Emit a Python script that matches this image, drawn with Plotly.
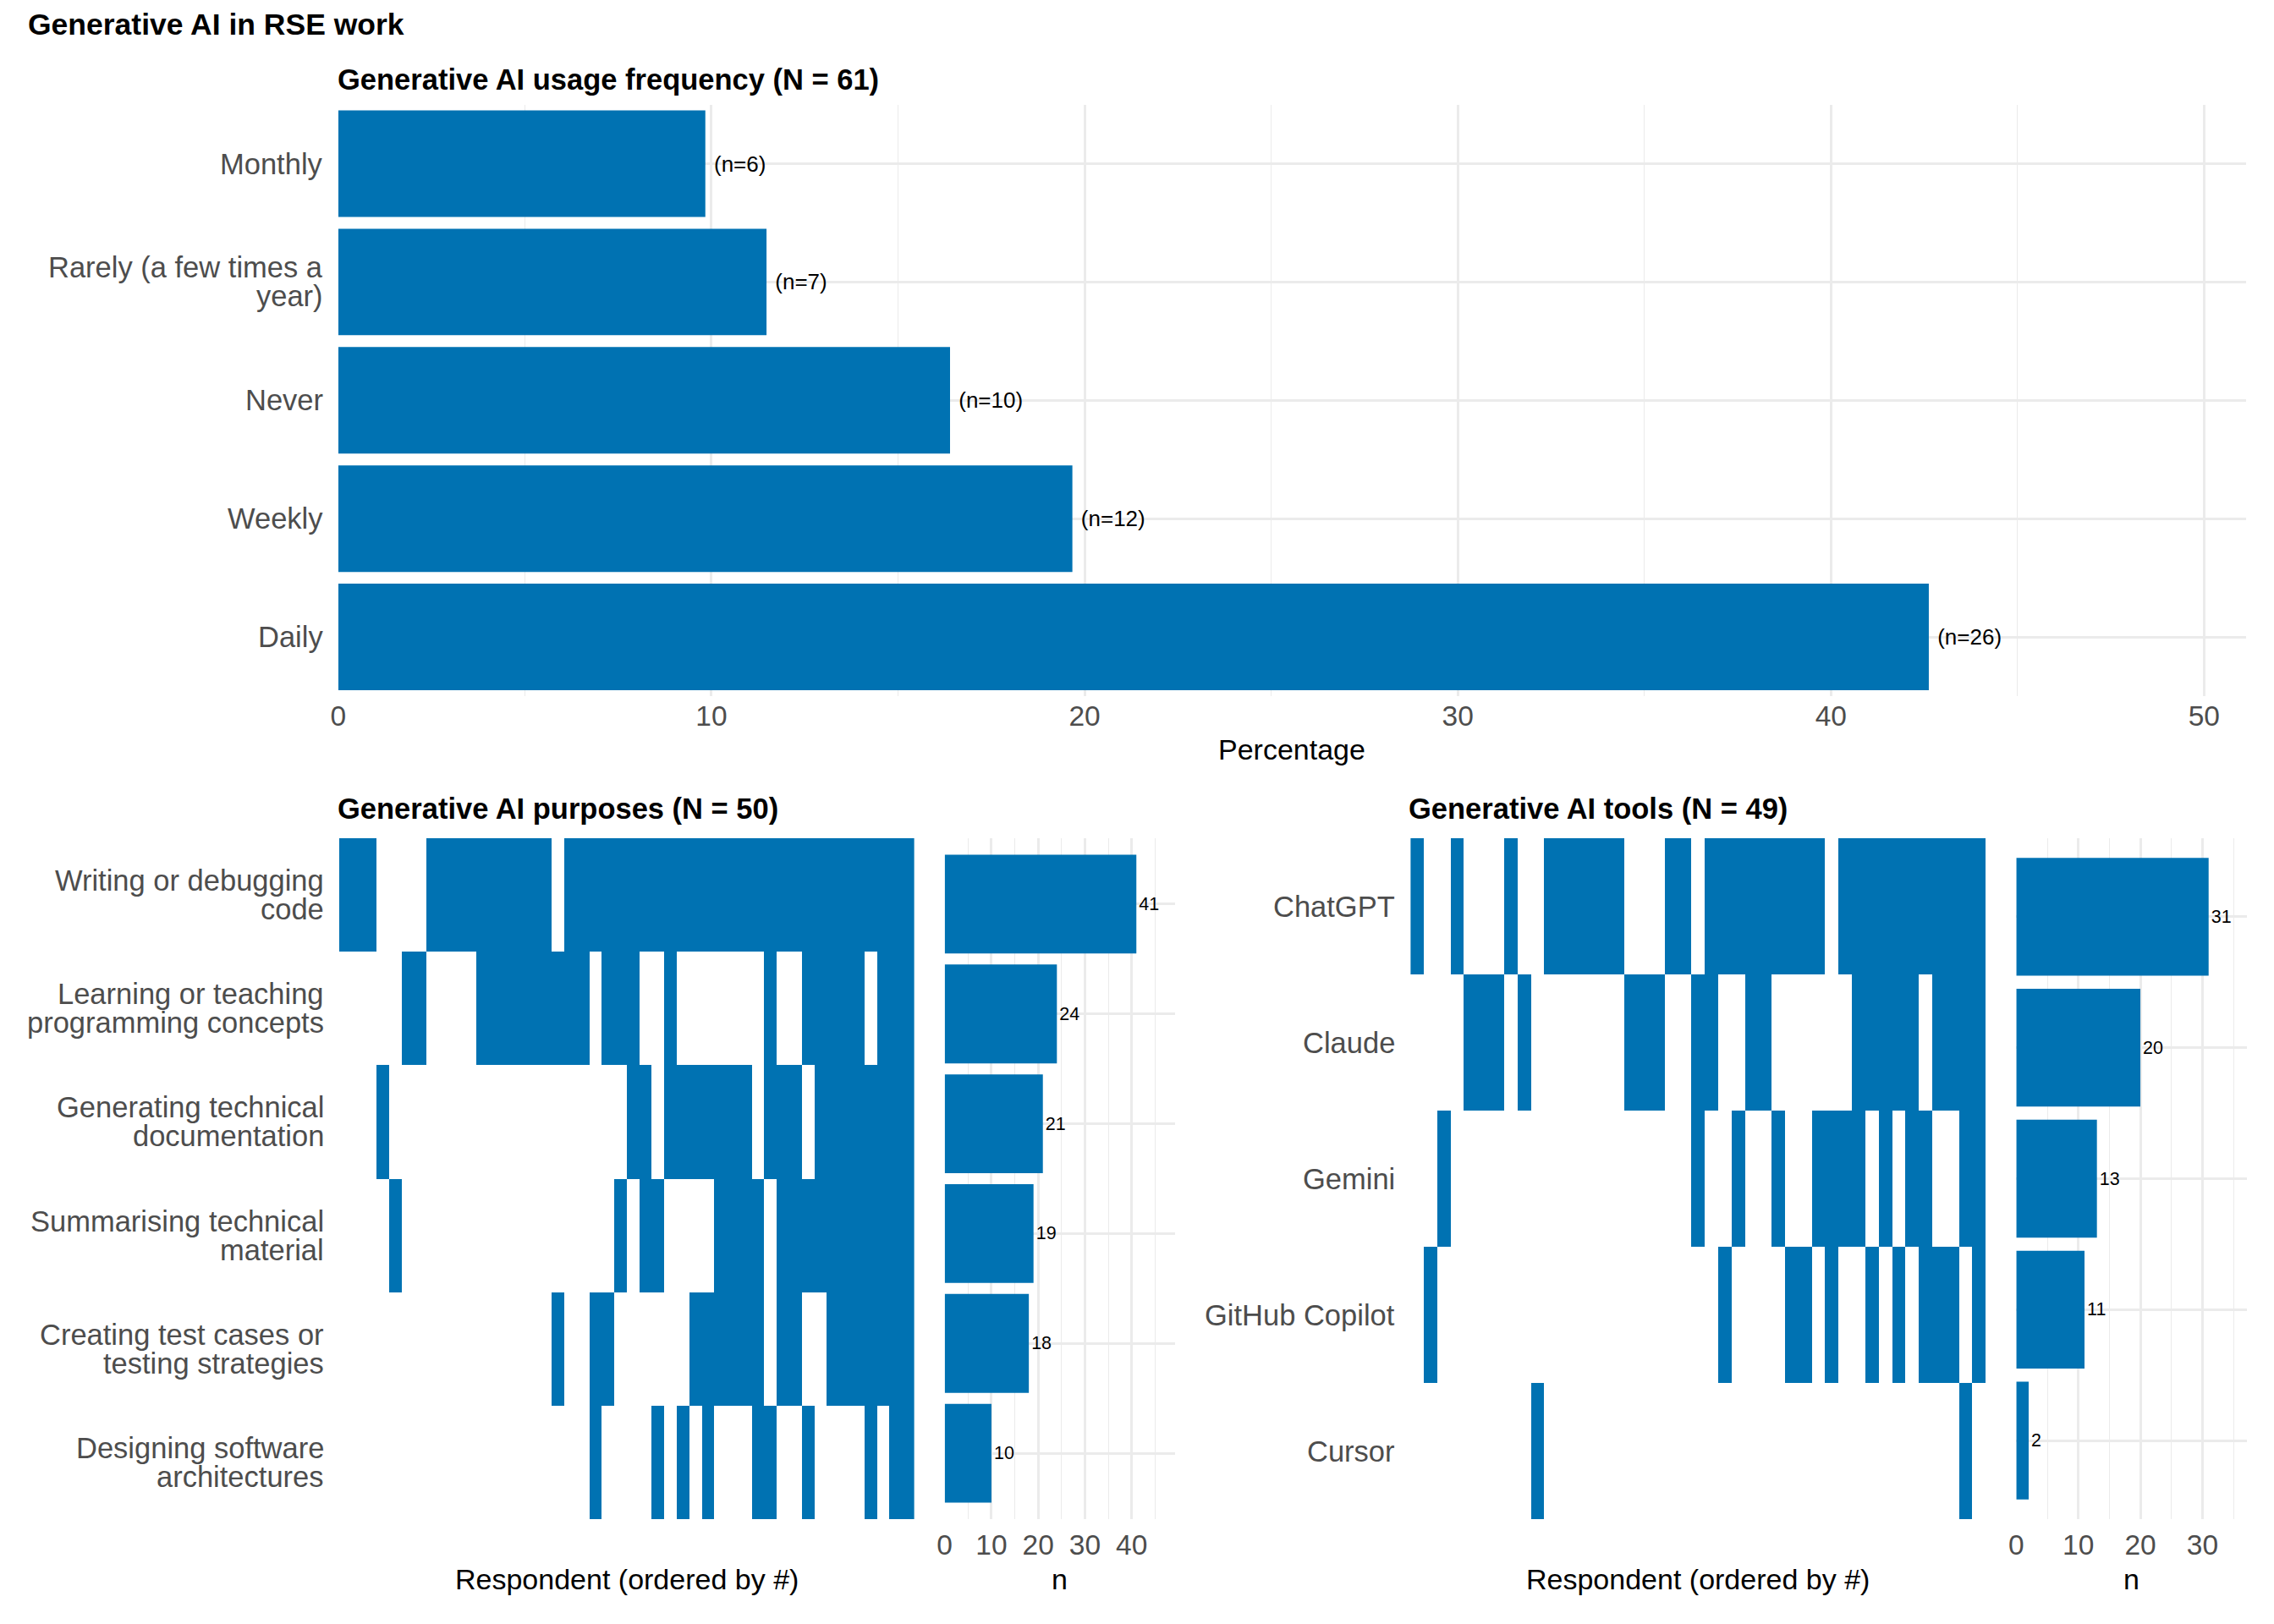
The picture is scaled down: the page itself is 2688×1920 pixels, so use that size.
import plotly.graph_objects as go

W, H = 2688, 1920
BLUE = "#0072B2"
GRID = "#EBEBEB"
TICK = "#4D4D4D"
FONT = "Liberation Sans"

# ---------------- data ----------------
main_title = "Generative AI in RSE work"

freq_labels = ["Monthly", "Rarely (a few times a\nyear)", "Never", "Weekly", "Daily"]
freq_counts = [6, 7, 10, 12, 26]
freq_N = 61

purposes = [
    "Writing or debugging\ncode",
    "Learning or teaching\nprogramming concepts",
    "Generating technical\ndocumentation",
    "Summarising technical\nmaterial",
    "Creating test cases or\ntesting strategies",
    "Designing software\narchitectures",
]
purpose_counts = [41, 24, 21, 19, 18, 10]
purpose_N = 50
# one row per purpose, one column per respondent (1 = selected)
p_writing = [1,1,1,0,0,0,0,1,1,1,1,1,1,1,1,1,1,0,1,1,1,1,1,1,1,1,1,1,1,1,1,1,1,1,1,1,1,1,1,1,1,1,1,1,1,1]
p_learning = [0,0,0,0,0,1,1,0,0,0,0,1,1,1,1,1,1,1,1,1,0,1,1,1,0,0,1,0,0,0,0,0,0,0,1,0,0,1,1,1,1,1,0,1,1,1]
p_generating = [0,0,0,1,0,0,0,0,0,0,0,0,0,0,0,0,0,0,0,0,0,0,0,1,1,0,1,1,1,1,1,1,1,0,1,1,1,0,1,1,1,1,1,1,1,1]
p_summarising = [0,0,0,0,1,0,0,0,0,0,0,0,0,0,0,0,0,0,0,0,0,0,1,0,1,1,0,0,0,0,1,1,1,1,0,1,1,1,1,1,1,1,1,1,1,1]
p_testing = [0,0,0,0,0,0,0,0,0,0,0,0,0,0,0,0,0,1,0,0,1,1,0,0,0,0,0,0,1,1,1,1,1,1,0,1,1,0,0,1,1,1,1,1,1,1]
p_designing = [0,0,0,0,0,0,0,0,0,0,0,0,0,0,0,0,0,0,0,0,1,0,0,0,0,1,0,1,0,1,0,0,0,1,1,0,0,1,0,0,0,0,1,0,1,1]
purpose_rows = [p_writing, p_learning, p_generating, p_summarising, p_testing, p_designing]

tools = ["ChatGPT", "Claude", "Gemini", "GitHub Copilot", "Cursor"]
tool_counts = [31, 20, 13, 11, 2]
tool_N = 49
t_chatgpt = [1,0,0,1,0,0,0,1,0,0,1,1,1,1,1,1,0,0,0,1,1,0,1,1,1,1,1,1,1,1,1,0,1,1,1,1,1,1,1,1,1,1,1]
t_claude = [0,0,0,0,1,1,1,0,1,0,0,0,0,0,0,0,1,1,1,0,0,1,1,0,0,1,1,0,0,0,0,0,0,1,1,1,1,1,0,1,1,1,1]
t_gemini = [0,0,1,0,0,0,0,0,0,0,0,0,0,0,0,0,0,0,0,0,0,1,0,0,1,0,0,1,0,0,1,1,1,1,0,1,0,1,1,0,0,1,1]
t_copilot = [0,1,0,0,0,0,0,0,0,0,0,0,0,0,0,0,0,0,0,0,0,0,0,1,0,0,0,0,1,1,0,1,0,0,1,0,1,0,1,1,1,0,1]
t_cursor = [0,0,0,0,0,0,0,0,0,1,0,0,0,0,0,0,0,0,0,0,0,0,0,0,0,0,0,0,0,0,0,0,0,0,0,0,0,0,0,0,0,1,0]
tool_rows = [t_chatgpt, t_claude, t_gemini, t_copilot, t_cursor]

freq_pct = [c / freq_N * 100 for c in freq_counts]


# ---------------- helpers ----------------
def xd(a, b):
    return [a / W, b / W]


def yd(top, bottom):
    return [1 - bottom / H, 1 - top / H]


def yp(py):
    return 1 - py / H


fig = go.Figure()

# top bar chart
fig.add_trace(go.Bar(
    x=freq_pct, y=freq_labels, orientation="h", width=0.9,
    marker=dict(color=BLUE, line=dict(width=0)),
    text=[f" (n={c})" for c in freq_counts], textposition="outside",
    textfont=dict(size=26, color="black", family=FONT), cliponaxis=False,
    xaxis="x", yaxis="y", hoverinfo="skip",
))

# purposes heatmap
n_p = len(purpose_rows[0])
fig.add_trace(go.Heatmap(
    z=purpose_rows, x=list(range(1, n_p + 1)), y=purposes,
    colorscale=[[0, "#FFFFFF"], [1, BLUE]], zmin=0, zmax=1, showscale=False,
    xaxis="x2", yaxis="y2", hoverinfo="skip",
))
fig.add_trace(go.Bar(
    x=purpose_counts, y=purposes, orientation="h", width=0.9,
    marker=dict(color=BLUE, line=dict(width=0)),
    text=[str(c) for c in purpose_counts], textposition="outside",
    textfont=dict(size=21.5, color="black", family=FONT), cliponaxis=False,
    xaxis="x3", yaxis="y3", hoverinfo="skip",
))

# tools heatmap
n_t = len(tool_rows[0])
fig.add_trace(go.Heatmap(
    z=tool_rows, x=list(range(1, n_t + 1)), y=tools,
    colorscale=[[0, "#FFFFFF"], [1, BLUE]], zmin=0, zmax=1, showscale=False,
    xaxis="x4", yaxis="y4", hoverinfo="skip",
))
fig.add_trace(go.Bar(
    x=tool_counts, y=tools, orientation="h", width=0.9,
    marker=dict(color=BLUE, line=dict(width=0)),
    text=[str(c) for c in tool_counts], textposition="outside",
    textfont=dict(size=21.5, color="black", family=FONT), cliponaxis=False,
    xaxis="x5", yaxis="y5", hoverinfo="skip",
))

tickfont = dict(size=33.5, color=TICK, family=FONT)


def val_axis(domain, rng, anchor, standoff=0):
    return dict(
        domain=domain, range=rng, anchor=anchor, dtick=10, tick0=0,
        showgrid=True, gridcolor=GRID, gridwidth=2.7,
        minor=dict(dtick=5, tick0=0, showgrid=True, gridcolor=GRID, gridwidth=1.4),
        zeroline=False, showline=False, ticks="", tickfont=tickfont,
        ticklabelstandoff=standoff, fixedrange=True,
    )


def cat_axis(domain, cats, rng, anchor, grid=True):
    return dict(
        domain=domain, type="category", categoryorder="array", categoryarray=cats,
        range=rng, anchor=anchor, showgrid=grid, gridcolor=GRID, gridwidth=2.7,
        zeroline=False, showline=False, ticks="", showticklabels=False,
        fixedrange=True,
    )


def hm_xaxis(domain, n, anchor):
    return dict(domain=domain, range=[0.5, n + 0.5], anchor=anchor, showgrid=False,
                zeroline=False, showline=False, ticks="", showticklabels=False,
                fixedrange=True)


top_y = yd(123.6, 823)
bot_y = yd(991, 1796)

fig.update_layout(
    width=W, height=H,
    margin=dict(l=0, r=0, t=0, b=0),
    paper_bgcolor="white", plot_bgcolor="white",
    showlegend=False,
    font=dict(family=FONT, color="black"),
    xaxis=val_axis(xd(392.2, 2655.1), [0, 51.13], "y"),
    yaxis=cat_axis(top_y, freq_labels, [len(freq_labels) - 0.5, -0.5], "x"),
    xaxis2=hm_xaxis(xd(393.2, 1075.3), n_p, "y2"),
    yaxis2=cat_axis(bot_y, purposes, [len(purposes) - 0.5, -0.5], "x2", grid=False),
    xaxis3=val_axis(xd(1111.4, 1384.2), [0, 49.2], "y3", standoff=7),
    yaxis3=cat_axis(bot_y, purposes, [len(purposes) - 0.4, -0.6], "x3"),
    xaxis4=hm_xaxis(xd(1663.8, 2345.9), n_t, "y4"),
    yaxis4=cat_axis(bot_y, tools, [len(tools) - 0.5, -0.5], "x4", grid=False),
    xaxis5=val_axis(xd(2382.3, 2656.1), [0, 37.2], "y5", standoff=7),
    yaxis5=cat_axis(bot_y, tools, [len(tools) - 0.4, -0.6], "x5"),
)

ann = []


def text_ann(text, x, y, size, bold=False, anchor="left", color="black"):
    t = f"<b>{text}</b>" if bold else text
    ann.append(dict(text=t, x=x / W, y=yp(y), xref="paper", yref="paper",
                    xanchor=anchor, yanchor="middle", showarrow=False,
                    font=dict(size=size, color=color, family=FONT)))


text_ann(main_title, 22, 29, 35.5, bold=True)
text_ann(f"Generative AI usage frequency (N = {freq_N})", 389, 94, 34.5, bold=True)
text_ann(f"Generative AI purposes (N = {purpose_N})", 389, 956, 34.5, bold=True)
text_ann(f"Generative AI tools (N = {tool_N})", 1660, 956, 34.5, bold=True)
text_ann("Percentage", 1523.6, 886, 34, anchor="center")
text_ann("Respondent (ordered by #)", 734.2, 1867, 34, anchor="center")
text_ann("n", 1247.8, 1867, 34, anchor="center")
text_ann("Respondent (ordered by #)", 2004.8, 1867, 34, anchor="center")
text_ann("n", 2519.2, 1867, 34, anchor="center")

LINE = 34


def cat_labels(cats, xref, yref):
    for c in cats:
        lines = c.split("\n")
        L = len(lines)
        for j, ln in enumerate(lines):
            ann.append(dict(text=ln, x=0, y=c, xref=xref + " domain", yref=yref,
                            xanchor="right", yanchor="middle", xshift=-16,
                            yshift=((L - 1) / 2 - j) * LINE, showarrow=False,
                            font=dict(size=34.5, color=TICK, family=FONT)))


cat_labels(freq_labels, "x", "y")
cat_labels(purposes, "x2", "y2")
cat_labels(tools, "x4", "y4")

fig.update_layout(annotations=ann)

fig.write_html("out.html")
